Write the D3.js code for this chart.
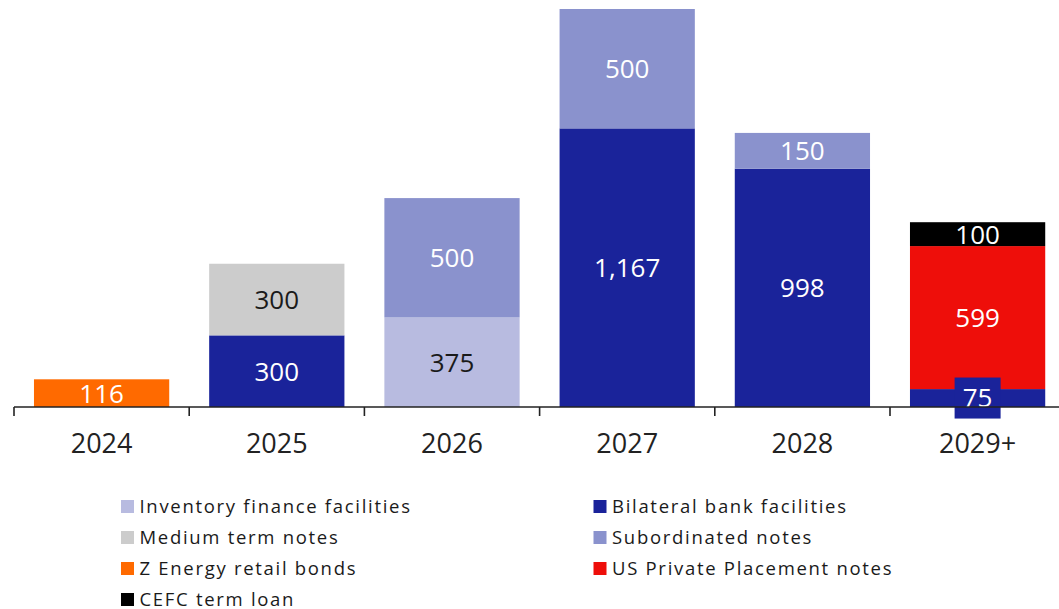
<!DOCTYPE html>
<html>
<head>
<meta charset="utf-8">
<script src="https://cdn.jsdelivr.net/npm/d3@7"></script>
<style>
  html, body { margin: 0; padding: 0; background: #fff; }
  svg { display: block; font-family: "Open Sans", "Noto Sans", sans-serif; }
</style>
</head>
<body>
<svg id="chart" width="1059" height="609"></svg>
<script>
// Debt maturity profile by year (NZ$m)
const years = ["2024", "2025", "2026", "2027", "2028", "2029+"];

const seriesNames = [
  "Inventory finance facilities",
  "Bilateral bank facilities",
  "Z Energy retail bonds",
  "US Private Placement notes",
  "Medium term notes",
  "Subordinated notes",
  "CEFC term loan"
];

const inventoryFinance = [0, 0, 375, 0, 0, 0];
const bilateralBank    = [0, 300, 0, 1167, 998, 75];
const zEnergyRetail    = [116, 0, 0, 0, 0, 0];
const usPrivatePlacement = [0, 0, 0, 0, 0, 599];
const mediumTermNotes  = [0, 300, 0, 0, 0, 0];
const subordinated     = [0, 0, 500, 500, 150, 0];
const cefcTermLoan     = [0, 0, 0, 0, 0, 100];

const seriesColors = ["#B8BBE0", "#1A239A", "#FF6A00", "#EE0E0A", "#CCCCCC", "#8A92CD", "#000000"];
const darkLabelSeries = new Set(["Inventory finance facilities", "Medium term notes"]);

const valuesBySeries = [inventoryFinance, bilateralBank, zEnergyRetail, usPrivatePlacement,
                        mediumTermNotes, subordinated, cefcTermLoan];

const rows = years.map((yr, i) => {
  const r = { year: yr };
  seriesNames.forEach((s, k) => { r[s] = valuesBySeries[k][i]; });
  return r;
});

const svg = d3.select("#chart");
const baseY = 407;

const x = d3.scaleBand()
  .domain(years)
  .range([14, 14 + 175.2 * years.length])
  .paddingInner(0.228)
  .paddingOuter(0.114);

const y = d3.scaleLinear().domain([0, 1667]).range([baseY, 9]);

const color = d3.scaleOrdinal().domain(seriesNames).range(seriesColors);

const stacked = d3.stack().keys(seriesNames)(rows);

const layers = svg.append("g").selectAll("g")
  .data(stacked)
  .join("g")
  .attr("fill", d => color(d.key));

layers.selectAll("rect")
  .data(d => d.filter(p => p[1] - p[0] > 0))
  .join("rect")
  .attr("x", d => x(d.data.year))
  .attr("width", x.bandwidth())
  .attr("y", d => y(d[1]))
  .attr("height", d => y(d[0]) - y(d[1]));

// Segment value labels
const fmt = d3.format(",");
const labelG = svg.append("g")
  .attr("text-anchor", "middle")
  .attr("font-size", 26);

stacked.forEach(layer => {
  layer.filter(p => p[1] - p[0] > 0).forEach(p => {
    const v = p[1] - p[0];
    const cx = x(p.data.year) + x.bandwidth() / 2;
    const cy = (y(p[0]) + y(p[1])) / 2;
    // Very thin segments get a small backing box so the label stays legible
    if (y(p[0]) - y(p[1]) < 20) {
      labelG.append("rect")
        .attr("x", cx - 23)
        .attr("y", cy - 20.5)
        .attr("width", 46)
        .attr("height", 41)
        .attr("fill", color(layer.key));
    }
    labelG.append("text")
      .attr("x", cx)
      .attr("y", cy)
      .attr("dy", "0.36em")
      .attr("fill", darkLabelSeries.has(layer.key) ? "#1a1a1a" : "#ffffff")
      .text(fmt(v));
  });
});

// Category axis with ticks between bars
const axisG = svg.append("g").attr("stroke", "#222").attr("stroke-width", 1.6);
axisG.append("line")
  .attr("x1", x.range()[0]).attr("x2", x.range()[1])
  .attr("y1", baseY).attr("y2", baseY);
const boundaries = years.map(yr => x(yr) - x.step() * x.paddingInner() / 2)
  .concat([x.range()[1]]);
axisG.selectAll("line.tick")
  .data(boundaries)
  .join("line")
  .attr("class", "tick")
  .attr("x1", d => d).attr("x2", d => d)
  .attr("y1", baseY).attr("y2", baseY + 9);

svg.append("g")
  .attr("text-anchor", "middle")
  .attr("font-size", 27)
  .attr("fill", "#222")
  .selectAll("text")
  .data(years)
  .join("text")
  .attr("x", d => x(d) + x.bandwidth() / 2)
  .attr("y", 443)
  .attr("dy", "0.36em")
  .text(d => d);

// Legend, two columns
const legendOrder = [
  "Inventory finance facilities", "Bilateral bank facilities",
  "Medium term notes", "Subordinated notes",
  "Z Energy retail bonds", "US Private Placement notes",
  "CEFC term loan"
];
const legend = svg.append("g")
  .attr("font-size", 18.5)
  .attr("letter-spacing", 1.7)
  .attr("fill", "#1a1a1a");
const items = legend.selectAll("g")
  .data(legendOrder)
  .join("g")
  .attr("transform", (d, i) => `translate(${i % 2 === 0 ? 121 : 593.5},${506.5 + Math.floor(i / 2) * 31})`);
items.append("rect")
  .attr("x", 0).attr("y", -6.5)
  .attr("width", 13).attr("height", 13)
  .attr("fill", d => color(d));
items.append("text")
  .attr("x", 18.5)
  .attr("dy", "0.36em")
  .text(d => d);
</script>
</body>
</html>
